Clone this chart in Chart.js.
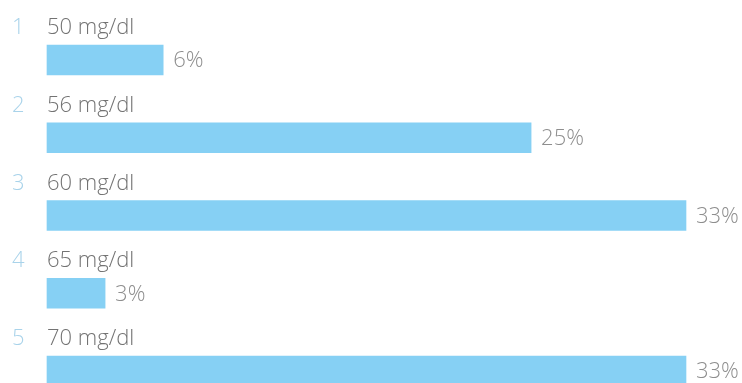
<!DOCTYPE html>
<html>
<head>
<meta charset="utf-8">
<script src="https://cdn.jsdelivr.net/npm/chart.js@4"></script>
<style>
  html, body { margin: 0; padding: 0; background: #fff; }
  canvas { display: block; }
</style>
</head>
<body>
<canvas id="glucoseChart" width="742" height="383"></canvas>
<script>
// glucose levels and their share of readings
var ranks = ["1", "2", "3", "4", "5"];
var levels = ["50 mg/dl", "56 mg/dl", "60 mg/dl", "65 mg/dl", "70 mg/dl"];
var shares = [6, 25, 33, 3, 33];

var barColor = "#86d0f4";

// draws rank number, level name above each bar and the percentage after it
var rowLabels = {
    id: "rowLabels",
    afterDatasetsDraw: function(chart) {
        var ctx = chart.ctx;
        var meta = chart.getDatasetMeta(0);
        var left = chart.chartArea.left;
        ctx.save();
        ctx.font = "300 22px 'Open Sans'";
        meta.data.forEach(function(bar, i) {
            var top = bar.y - bar.height / 2;
            ctx.textBaseline = "alphabetic";
            ctx.textAlign = "left";
            ctx.fillStyle = "#a9d3ea";
            ctx.fillText(ranks[i], 12, top - 11);
            ctx.fillStyle = "#737373";
            ctx.fillText(levels[i], left, top - 11);
            ctx.textBaseline = "middle";
            ctx.fillStyle = "#8e8e8e";
            ctx.fillText(shares[i] + "%", bar.x + 10, bar.y + 1);
        });
        ctx.restore();
    }
};

var ctx = document.getElementById("glucoseChart").getContext("2d");
var glucose_chart = new Chart(ctx, {
    type: "bar",
    data: {
        labels: levels,
        datasets: [{
            data: shares,
            backgroundColor: barColor,
            borderWidth: 0,
            barThickness: 30,
            clip: false
        }]
    },
    options: {
        indexAxis: "y",
        responsive: false,
        animation: false,
        layout: {
            padding: { left: 47, right: 56, top: 60, bottom: 12 }
        },
        plugins: {
            legend: { display: false },
            tooltip: { enabled: false }
        },
        scales: {
            x: { display: false, min: 0, max: 33 },
            y: { display: false, offset: false }
        }
    },
    plugins: [rowLabels]
});
</script>
</body>
</html>
